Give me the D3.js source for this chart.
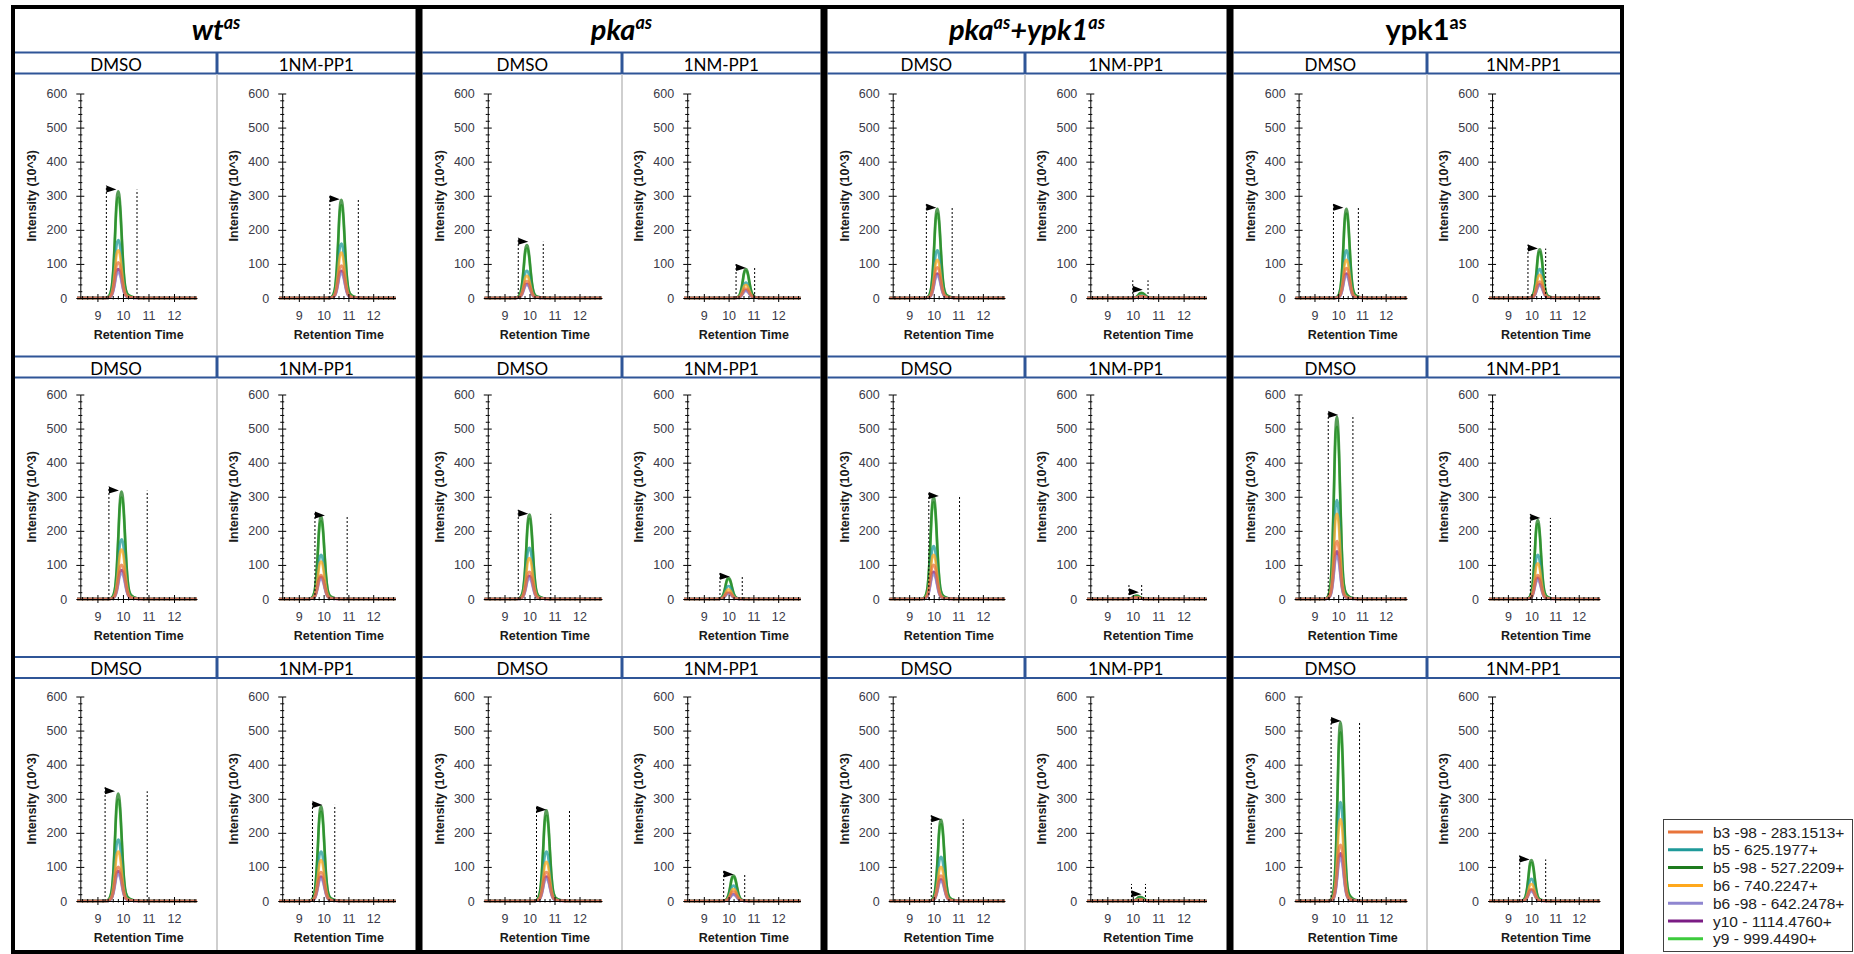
<!DOCTYPE html>
<html>
<head>
<meta charset="utf-8">
<script src="https://cdn.jsdelivr.net/npm/d3@7"></script>
<style>
  html, body { margin: 0; padding: 0; background: #fff; }
  svg { display: block; }
  .tick text { font-family: "Liberation Sans", Arial, sans-serif; font-size: 12.5px; fill: #3a3a48; }
  .tick line, .domain { stroke: #000; stroke-width: 1; }
</style>
</head>
<body>
<svg id="chart" width="1854" height="954"></svg>
<script>
"use strict";

// ---- data -----------------------------------------------------------------
// strain titles: [text, isSuperscript]
const strainTitles = [
  [["wt", 0], ["as", 1]],
  [["pka", 0], ["as", 1]],
  [["pka", 0], ["as", 1], ["+ypk1", 0], ["as", 1]],
  [["ypk1", 0], ["as", 1]],
];
const strainItalic = [true, true, true, false];
const treatments = ["DMSO", "1NM-PP1"];

const seriesNames = [
  "b3 -98 - 283.1513+",
  "b5 - 625.1977+",
  "b5 -98 - 527.2209+",
  "b6 - 740.2247+",
  "b6 -98 - 642.2478+",
  "y10 - 1114.4760+",
  "y9 - 999.4490+",
];
const seriesColors = ["#E8743B", "#1F9A9A", "#1E7B1E", "#FFA81C", "#8F86D0", "#7B1C84", "#3DCB3D"];
const drawOrder = [6, 2, 1, 3, 5, 4, 0];

const yTicks = [0, 100, 200, 300, 400, 500, 600];
const xTicks = [9, 10, 11, 12];

// shared peak shape (minutes from apex, fraction of apex)
const peakOffsets = [-0.5, -0.4, -0.32, -0.25, -0.19, -0.13, -0.09, -0.045, 0, 0.045, 0.09, 0.14, 0.2, 0.26, 0.33, 0.42, 0.55, 0.7, 0.9];
const peakProfile = [0, 0.01, 0.04, 0.12, 0.3, 0.6, 0.83, 0.97, 1, 0.95, 0.8, 0.55, 0.28, 0.12, 0.05, 0.025, 0.01, 0.004, 0];

// per row (replicate), per column: wt DMSO, wt 1NM, pka DMSO, pka 1NM, pka+ypk1 DMSO, pka+ypk1 1NM, ypk1 DMSO, ypk1 1NM
const apexTime = [
  [9.82, 10.72, 9.9, 10.7, 10.15, 10.35, 10.35, 10.35],
  [9.95, 9.9, 10.0, 10.0, 10.0, 10.15, 9.95, 10.27],
  [9.82, 9.9, 10.68, 10.2, 10.3, 10.3, 10.1, 10.0],
];
const windowStart = [
  [9.35, 10.25, 9.55, 10.3, 9.7, 10.0, 9.8, 9.85],
  [9.45, 9.65, 9.55, 9.65, 9.8, 9.85, 9.58, 9.95],
  [9.3, 9.55, 10.28, 9.8, 9.9, 9.95, 9.7, 9.5],
];
const windowEnd = [
  [10.55, 11.4, 10.55, 11.05, 10.75, 10.6, 10.85, 10.6],
  [10.95, 10.95, 10.85, 10.55, 11.05, 10.35, 10.62, 10.8],
  [10.95, 10.45, 11.6, 10.65, 11.2, 10.5, 10.9, 10.6],
];
const flagHeight = [
  [318, 290, 165, 88, 265, 24, 265, 145],
  [318, 245, 250, 65, 302, 20, 540, 238],
  [322, 282, 268, 78, 240, 20, 528, 122],
];
const boundaryHeight = [
  [318, 290, 165, 88, 265, 52, 265, 145],
  [318, 245, 250, 65, 302, 45, 540, 238],
  [322, 282, 268, 78, 240, 50, 528, 122],
];
// apex heights (10^3) in legend order: b3-98, b5, b5-98, b6, b6-98, y10, y9
const apexHeights = [
  [
    [105, 170, 313, 140, 75, 85, 295],
    [95, 160, 288, 133, 72, 80, 272],
    [50, 80, 155, 65, 38, 42, 145],
    [28, 45, 85, 38, 20, 23, 80],
    [90, 140, 262, 112, 65, 72, 248],
    [5, 8, 15, 6, 4, 4, 14],
    [88, 140, 262, 112, 65, 72, 248],
    [48, 85, 143, 68, 36, 40, 135],
  ],
  [
    [100, 175, 315, 145, 75, 85, 298],
    [70, 130, 242, 110, 58, 65, 228],
    [80, 150, 248, 120, 60, 68, 235],
    [20, 38, 62, 28, 15, 17, 58],
    [100, 155, 300, 130, 72, 80, 284],
    [4, 6, 10, 5, 3, 3, 9],
    [170, 290, 535, 250, 125, 140, 505],
    [70, 130, 232, 105, 55, 62, 220],
  ],
  [
    [100, 180, 315, 145, 78, 88, 298],
    [85, 145, 278, 120, 65, 72, 262],
    [85, 145, 266, 115, 65, 72, 250],
    [28, 45, 75, 35, 18, 20, 70],
    [75, 130, 238, 100, 58, 64, 225],
    [4, 7, 12, 5, 3, 3, 11],
    [165, 290, 525, 240, 125, 140, 495],
    [35, 65, 120, 50, 28, 32, 112],
  ],
];

// ---- layout ---------------------------------------------------------------
const groupEdges = [13, 419, 824, 1230, 1622];
const splitX = [217, 622, 1025, 1427];
const bandTops = [52.5, 356.5, 657];
const bandH = 21;
const plotBottom = [298, 599, 901];
const plotSpan = 204.5;
const frameTop = 7, frameBottom = 952;
const blue = "#2F5597";
const xDomain = [8.2, 12.9];

const svg = d3.select("#chart");
const font = "'Liberation Sans', Arial, sans-serif";
const headFont = "Lato, 'Open Sans', sans-serif";

const line = d3.line().curve(d3.curveMonotoneX);

function innerLeft(g) { return groupEdges[g] + (g === 0 ? 2 : 3.5); }
function innerRight(g) { return groupEdges[g + 1] - (g === 3 ? 2 : 3.5); }

// ---- panels ---------------------------------------------------------------
for (let r = 0; r < 3; r++) {
  for (let c = 0; c < 8; c++) {
    const g = c >> 1, t = c & 1;
    const L = t ? splitX[g] : innerLeft(g);
    const R = t ? innerRight(g) : splitX[g];

    const x = d3.scaleLinear().domain(xDomain).range([L + 62, R - 20]);
    const y = d3.scaleLinear().domain([0, 600]).range([plotBottom[r], plotBottom[r] - plotSpan]);
    const ax = x(8.33);
    const p = svg.append("g");

    // traces
    const t0 = apexTime[r][c];
    drawOrder.forEach((s) => {
      const h = apexHeights[r][c][s];
      const pts = [[xDomain[0], 0]]
        .concat(peakOffsets.map((o, i) => [t0 + o, h * peakProfile[i]]))
        .concat([[xDomain[1], 0]]);
      p.append("path")
        .attr("d", line(pts.map((d) => [x(d[0]), y(d[1])])))
        .attr("fill", "none")
        .attr("stroke", seriesColors[s])
        .attr("stroke-width", 2.6)
        .attr("stroke-opacity", 0.75)
        .attr("stroke-linejoin", "round");
    });

    // y axis: major crossing ticks + minor ticks
    const minorY = d3.range(0, 601, 20).filter((v) => v % 100 !== 0);
    const yg = p.append("g").attr("transform", `translate(${ax},0)`);
    yg.call(d3.axisLeft(y).tickValues(yTicks).tickSize(4).tickSizeOuter(0).tickPadding(9));
    yg.append("g").call(d3.axisRight(y).tickValues(yTicks).tickSize(4).tickFormat("")).select(".domain").remove();
    yg.append("g").call(d3.axisLeft(y).tickValues(minorY).tickSize(2).tickFormat("")).select(".domain").remove();
    yg.append("g").call(d3.axisRight(y).tickValues(minorY).tickSize(2).tickFormat("")).select(".domain").remove();

    // x axis
    const minorX = d3.range(8.4, 12.9, 0.2).filter((v) => Math.abs(v - Math.round(v)) > 0.05);
    const xg = p.append("g").attr("transform", `translate(0,${y(0)})`);
    xg.call(d3.axisBottom(x).tickValues(xTicks).tickSize(4).tickSizeOuter(0).tickPadding(9).tickFormat(d3.format("d")));
    xg.append("g").call(d3.axisTop(x).tickValues(xTicks).tickSize(4).tickFormat("")).select(".domain").remove();
    xg.append("g").call(d3.axisTop(x).tickValues(minorX).tickSize(2).tickFormat("")).select(".domain").remove();
    xg.append("g").call(d3.axisBottom(x).tickValues(minorX).tickSize(1.5).tickFormat("")).select(".domain").remove();

    // integration window + apex flag
    const xs = x(windowStart[r][c]), xe = x(windowEnd[r][c]);
    const yb = y(boundaryHeight[r][c]), yf = y(flagHeight[r][c]);
    p.append("line").attr("x1", xs).attr("x2", xs).attr("y1", y(0)).attr("y2", Math.min(yb, yf - 4))
      .attr("stroke", "#000").attr("stroke-width", 1).attr("stroke-dasharray", "2,2");
    p.append("line").attr("x1", xe).attr("x2", xe).attr("y1", y(0)).attr("y2", yb)
      .attr("stroke", "#000").attr("stroke-width", 1).attr("stroke-dasharray", "2,2");
    p.append("path")
      .attr("d", `M${xs},${yf - 4}L${xs + 10},${yf}L${xs},${yf + 3}Z`)
      .attr("fill", "#000");

    // axis titles
    p.append("text")
      .attr("x", (ax + x(xDomain[1])) / 2)
      .attr("y", y(0) + 41)
      .attr("text-anchor", "middle")
      .attr("font-family", font).attr("font-size", 12.5).attr("font-weight", "bold")
      .attr("fill", "#1a1a1a")
      .text("Retention Time");
    p.append("text")
      .attr("transform", `translate(${L + 17},${y(300)}) rotate(-90)`)
      .attr("text-anchor", "middle")
      .attr("dominant-baseline", "central")
      .attr("font-family", font).attr("font-size", 12.5).attr("font-weight", "bold")
      .attr("fill", "#1a1a1a")
      .text("Intensity (10^3)");
  }
}

// ---- table structure ------------------------------------------------------
for (let g = 0; g < 4; g++) {
  const l = innerLeft(g), rr = innerRight(g);
  // strain title
  const title = svg.append("text")
    .attr("x", (groupEdges[g] + groupEdges[g + 1]) / 2)
    .attr("y", 40)
    .attr("text-anchor", "middle")
    .attr("font-family", headFont)
    .attr("font-weight", "bold")
    .attr("font-style", strainItalic[g] ? "italic" : "normal")
    .attr("font-size", 29)
    .attr("fill", "#000");
  let raised = false;
  strainTitles[g].forEach(([txt, sup]) => {
    const ts = title.append("tspan").text(txt);
    if (sup && !raised) { ts.attr("dy", -11).attr("font-size", 18); raised = true; }
    else if (!sup && raised) { ts.attr("dy", 11); raised = false; }
  });

  for (let r = 0; r < 3; r++) {
    const bt = bandTops[r];
    // treatment labels
    treatments.forEach((tr, t) => {
      const a = t ? splitX[g] : l, b = t ? rr : splitX[g];
      svg.append("text")
        .attr("x", (a + b) / 2)
        .attr("y", bt + 18)
        .attr("text-anchor", "middle")
        .attr("font-family", headFont)
        .attr("font-size", 17)
        .attr("fill", "#000")
        .text(tr);
    });
    svg.append("line").attr("x1", l).attr("x2", rr).attr("y1", bt).attr("y2", bt)
      .attr("stroke", blue).attr("stroke-width", 2);
    svg.append("line").attr("x1", l).attr("x2", rr).attr("y1", bt + bandH).attr("y2", bt + bandH)
      .attr("stroke", blue).attr("stroke-width", 2);
    svg.append("line").attr("x1", splitX[g]).attr("x2", splitX[g]).attr("y1", bt).attr("y2", bt + bandH)
      .attr("stroke", blue).attr("stroke-width", 3);
    const nextTop = r < 2 ? bandTops[r + 1] - 1 : frameBottom - 2;
    svg.append("line").attr("x1", splitX[g]).attr("x2", splitX[g]).attr("y1", bt + bandH + 1).attr("y2", nextTop)
      .attr("stroke", "#cfcfcf").attr("stroke-width", 2);
  }
}

groupEdges.slice(1, 4).forEach((gx) => {
  svg.append("line").attr("x1", gx).attr("x2", gx).attr("y1", frameTop).attr("y2", frameBottom)
    .attr("stroke", "#000").attr("stroke-width", 7);
});
svg.append("rect")
  .attr("x", groupEdges[0]).attr("y", frameTop)
  .attr("width", groupEdges[4] - groupEdges[0]).attr("height", frameBottom - frameTop)
  .attr("fill", "none").attr("stroke", "#000").attr("stroke-width", 4);

// ---- legend ---------------------------------------------------------------
const lg = svg.append("g").attr("transform", "translate(1663.5,819.5)");
lg.append("rect").attr("width", 189).attr("height", 132)
  .attr("fill", "#fff").attr("stroke", "#404040").attr("stroke-width", 1);
seriesNames.forEach((name, i) => {
  const yy = 12.5 + i * 17.8;
  lg.append("line").attr("x1", 4.5).attr("x2", 39.5).attr("y1", yy).attr("y2", yy)
    .attr("stroke", seriesColors[i]).attr("stroke-width", 3);
  lg.append("text").attr("x", 49.5).attr("y", yy)
    .attr("dominant-baseline", "central")
    .attr("font-family", font).attr("font-size", 15.5).attr("fill", "#222")
    .text(name);
});
</script>
</body>
</html>
